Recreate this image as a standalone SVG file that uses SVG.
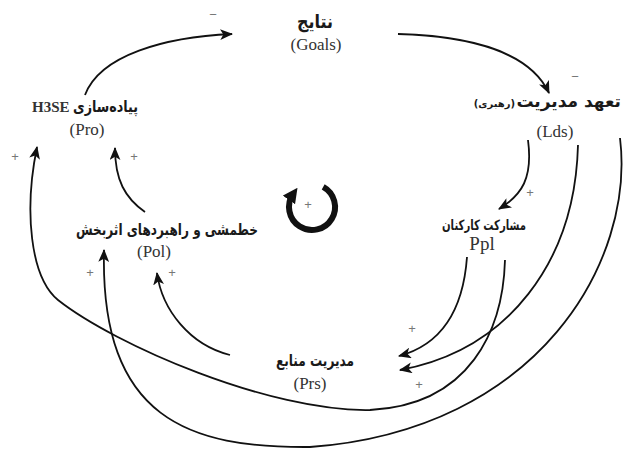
<svg xmlns="http://www.w3.org/2000/svg" width="626" height="449" viewBox="0 0 626 449">
<style>
.fa{font-family:"DejaVu Sans",sans-serif;font-weight:bold;fill:#1a1a1a}
.en{font-family:"Liberation Serif",serif;fill:#333}
.sg{font-family:"Liberation Sans",sans-serif;font-size:13px;fill:#777}
.ln{fill:none;stroke:#111;stroke-width:1.8}
</style>
<defs>
<marker id="ah" viewBox="0 0 12 10" refX="11" refY="5" markerWidth="13" markerHeight="11" markerUnits="userSpaceOnUse" orient="auto">
<path d="M0,0 L12,5 L0,10 L3,5 Z" fill="#111"/>
</marker>
<marker id="ahb" viewBox="0 0 12 12" refX="6" refY="6" markerWidth="15" markerHeight="15" markerUnits="userSpaceOnUse" orient="auto">
<path d="M0,0 L12,6 L0,12 Z" fill="#111"/>
</marker>
</defs>
<rect width="626" height="449" fill="#fff"/>
<g id="connectors">
<path class="ln" d="M85,95 C100,55 165,37 232,34" marker-end="url(#ah)"/>
<path class="ln" d="M398,34 C470,36 530,52 549,93" marker-end="url(#ah)"/>
<path class="ln" d="M528,140 C533,178 522,195 499,209" marker-end="url(#ah)"/>
<path class="ln" d="M467,257 C463,312 440,345 399,356" marker-end="url(#ah)"/>
<path class="ln" d="M578,145 C575,262 508,350 400,370" marker-end="url(#ah)"/>
<path class="ln" d="M505,260 C503,330 470,405 370,410 C270,412 115,345 58,300 C30,277 24,210 37,147" marker-end="url(#ah)"/>
<path class="ln" d="M620,138 C635,260 540,430 310,447 C190,448 100,420 104,250" marker-end="url(#ah)"/>
<path class="ln" d="M230,355 C190,345 162,310 157,273" marker-end="url(#ah)"/>
<path class="ln" d="M145,212 C125,198 115,180 115,148" marker-end="url(#ah)"/>
<text class="sg" x="213" y="19" text-anchor="middle">−</text>
<text class="sg" x="575" y="81" text-anchor="middle">−</text>
<text class="sg" x="530" y="197" text-anchor="middle">+</text>
<text class="sg" x="412" y="333" text-anchor="middle">+</text>
<text class="sg" x="419" y="389" text-anchor="middle">+</text>
<text class="sg" x="15" y="161" text-anchor="middle">+</text>
<text class="sg" x="134" y="161" text-anchor="middle">+</text>
<text class="sg" x="90" y="277" text-anchor="middle">+</text>
<text class="sg" x="172" y="277" text-anchor="middle">+</text>
</g>
<g id="goals">
<text class="fa" x="315" y="28" font-size="18" text-anchor="middle" direction="rtl" textLength="36" lengthAdjust="spacingAndGlyphs">نتایج</text>
<text class="en" x="316" y="50" font-size="17" text-anchor="middle">(Goals)</text>
</g>
<g id="lds">
<text class="fa" x="621" y="107" font-size="17" text-anchor="end">تعهد مدیریت</text>
<text class="fa" x="515" y="107" font-size="10" text-anchor="end">(رهبری)</text>
<text class="en" x="555" y="137" font-size="17" text-anchor="middle">(Lds)</text>
</g>
<g id="ppl">
<text class="fa" x="484" y="230" font-size="14" text-anchor="middle" direction="rtl" textLength="84" lengthAdjust="spacingAndGlyphs">مشارکت کارکنان</text>
<text class="en" x="482" y="250" font-size="19" text-anchor="middle">Ppl</text>
</g>
<g id="pro">
<text class="en" x="32" y="112" font-size="15" font-weight="bold" fill="#1a1a1a">H3SE</text>
<text class="fa" x="138" y="112" font-size="16" text-anchor="end" textLength="65" lengthAdjust="spacingAndGlyphs">پیاده‌سازی</text>
<text class="en" x="87" y="135" font-size="17" text-anchor="middle">(Pro)</text>
</g>
<g id="pol">
<text class="fa" x="167" y="235" font-size="16" text-anchor="middle" direction="rtl" textLength="182" lengthAdjust="spacingAndGlyphs">خطمشی و راهبردهای اثربخش</text>
<text class="en" x="154" y="257" font-size="17" text-anchor="middle">(Pol)</text>
</g>
<g id="prs">
<text class="fa" x="315" y="366" font-size="16" text-anchor="middle" direction="rtl" textLength="78" lengthAdjust="spacingAndGlyphs">مدیریت منابع</text>
<text class="en" x="310" y="389" font-size="17" text-anchor="middle">(Prs)</text>
</g>
<g id="loop">
<path d="M323.2,186.9 A23,23 0 1 1 293.2,193.8" fill="none" stroke="#111" stroke-width="6" marker-end="url(#ahb)"/>
<text class="sg" x="308" y="209" text-anchor="middle">+</text>
</g>
</svg>
